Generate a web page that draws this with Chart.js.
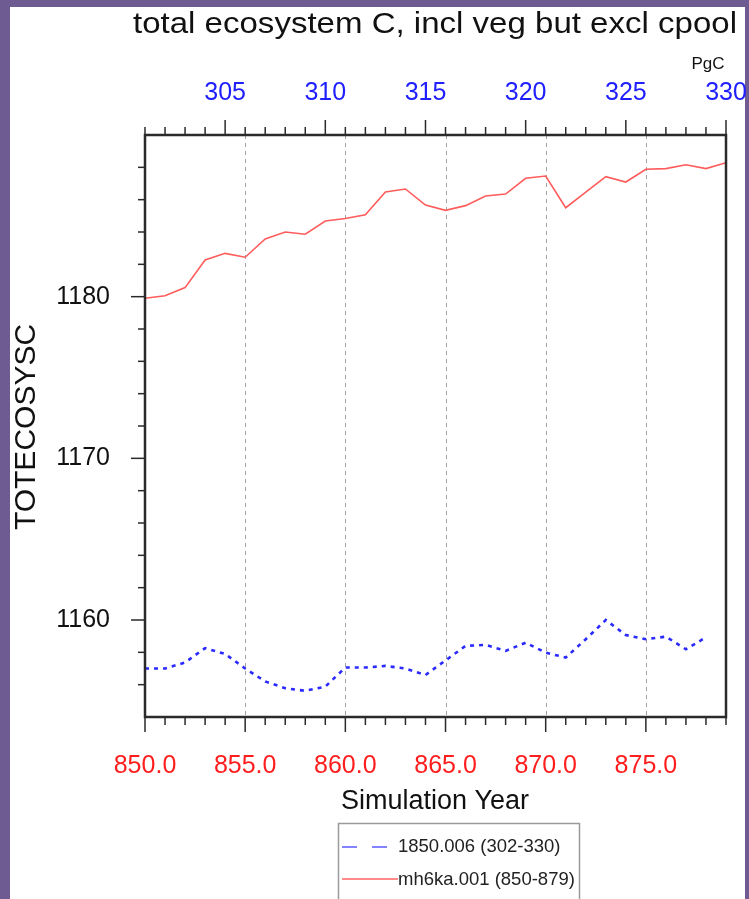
<!DOCTYPE html>
<html>
<head>
<meta charset="utf-8">
<title>TOTECOSYSC</title>
<script src="https://cdn.jsdelivr.net/npm/chart.js@4.4.1/dist/chart.umd.min.js"></script>
<style>
  html, body { margin: 0; padding: 0; background: #6e5b92; }
  #wrap { position: absolute; left: 0; top: 0; width: 749px; height: 899px; }
</style>
</head>
<body>
<div id="wrap"><canvas id="chart" width="749" height="899"></canvas></div>
<script>
// simulation years on the bottom axis
const years = [850, 851, 852, 853, 854, 855, 856, 857, 858, 859,
               860, 861, 862, 863, 864, 865, 866, 867, 868, 869,
               870, 871, 872, 873, 874, 875, 876, 877, 878, 879];

// mh6ka.001 (850-879), red solid
const mh6kaValues = [1179.9, 1180.06, 1180.56, 1182.27, 1182.68, 1182.44, 1183.57, 1184.0, 1183.86, 1184.68,
                     1184.83, 1185.07, 1186.47, 1186.66, 1185.67, 1185.34, 1185.63, 1186.23, 1186.35, 1187.32,
                     1187.46, 1185.5, 1186.47, 1187.42, 1187.09, 1187.88, 1187.92, 1188.16, 1187.92, 1188.29];

// 1850.006 (302-330), blue dotted
const ctlValues = [1157.0, 1157.0, 1157.37, 1158.26, 1157.9, 1157.0, 1156.2, 1155.78, 1155.62, 1155.88,
                   1157.06, 1157.06, 1157.16, 1157.0, 1156.6, 1157.5, 1158.4, 1158.46, 1158.09, 1158.6,
                   1157.98, 1157.68, 1158.81, 1160.0, 1159.07, 1158.81, 1158.97, 1158.19, 1158.93];

const bottomLabels = [850, 855, 860, 865, 870, 875];
const topLabels = [305, 310, 315, 320, 325, 330];
const yLabels = [1160, 1170, 1180];

const seriesNames = ['1850.006 (302-330)', 'mh6ka.001 (850-879)'];
const titleText = 'total ecosystem C, incl veg but excl cpool';
const FONT = '"Liberation Sans", Arial, Helvetica, sans-serif';

// draws background, ticks, frame, titles and the legend box
const ncarLook = {
  id: 'ncarLook',
  beforeDraw(chart) {
    const ctx = chart.ctx;
    ctx.save();
    ctx.fillStyle = '#6e5b92';
    ctx.fillRect(0, 0, 749, 899);
    ctx.fillStyle = '#ffffff';
    ctx.fillRect(10, 7, 735, 892);
    ctx.restore();
  },
  beforeDatasetsDraw(chart) {
    const ctx = chart.ctx;
    const a = chart.chartArea;
    const x = chart.scales.x;
    ctx.save();
    ctx.strokeStyle = '#a0a0a0';
    ctx.lineWidth = 1;
    ctx.setLineDash([4, 4]);
    bottomLabels.forEach(v => {
      if (v <= x.min || v >= x.max) return;
      const px = Math.round(x.getPixelForValue(v)) + 0.5;
      ctx.beginPath();
      ctx.moveTo(px, a.top);
      ctx.lineTo(px, a.bottom);
      ctx.stroke();
    });
    ctx.restore();
  },
  afterDraw(chart) {
    const ctx = chart.ctx;
    const a = chart.chartArea;
    const x = chart.scales.x, x2 = chart.scales.x2, y = chart.scales.y;
    ctx.save();
    ctx.strokeStyle = '#2a2a2a';

    // tick marks
    ctx.lineWidth = 1.5;
    for (let v = Math.ceil(x.min); v <= x.max; v++) {
      const px = x.getPixelForValue(v);
      const len = v % 5 === 0 ? 15 : 8;
      ctx.beginPath(); ctx.moveTo(px, a.bottom); ctx.lineTo(px, a.bottom + len); ctx.stroke();
    }
    for (let v = Math.ceil(x2.min); v <= x2.max; v++) {
      const px = x2.getPixelForValue(v);
      const len = v % 5 === 0 ? 15 : 8;
      ctx.beginPath(); ctx.moveTo(px, a.top); ctx.lineTo(px, a.top - len); ctx.stroke();
    }
    for (let v = 1156; v < y.max; v += 2) {
      const py = y.getPixelForValue(v);
      const len = v % 10 === 0 ? 14 : 7;
      ctx.beginPath(); ctx.moveTo(a.left, py); ctx.lineTo(a.left - len, py); ctx.stroke();
    }

    // frame
    ctx.lineWidth = 2.5;
    ctx.strokeRect(a.left, a.top, a.right - a.left, a.bottom - a.top);

    // title, stretched to the width it has in the figure
    ctx.fillStyle = '#111111';
    ctx.font = '29px ' + FONT;
    ctx.textBaseline = 'alphabetic';
    ctx.textAlign = 'left';
    const w = ctx.measureText(titleText).width;
    const sx = 604 / w;
    ctx.save();
    ctx.translate(133, 33);
    ctx.scale(sx, 1);
    ctx.fillText(titleText, 0, 0);
    ctx.restore();

    // units
    ctx.font = '17px ' + FONT;
    ctx.textAlign = 'center';
    ctx.textBaseline = 'middle';
    ctx.fillText('PgC', 708, 64);

    // axis titles
    ctx.font = '27px ' + FONT;
    ctx.fillText('Simulation Year', 435, 802);
    ctx.save();
    ctx.translate(27, 427);
    ctx.rotate(-Math.PI / 2);
    ctx.font = '30px ' + FONT;
    ctx.fillText('TOTECOSYSC', 0, 0);
    ctx.restore();

    // legend
    ctx.strokeStyle = '#9a9a9a';
    ctx.lineWidth = 1.5;
    ctx.strokeRect(338.5, 823.5, 241, 100);
    ctx.lineWidth = 1.5;
    ctx.strokeStyle = '#5b5bff';
    ctx.setLineDash([15, 15]);
    ctx.beginPath(); ctx.moveTo(342, 847); ctx.lineTo(390, 847); ctx.stroke();
    ctx.setLineDash([]);
    ctx.strokeStyle = '#ff6464';
    ctx.beginPath(); ctx.moveTo(342, 879); ctx.lineTo(398, 879); ctx.stroke();
    ctx.fillStyle = '#222222';
    ctx.font = '18.5px ' + FONT;
    ctx.textAlign = 'left';
    ctx.fillText(seriesNames[0], 398, 847);
    ctx.fillText(seriesNames[1], 398, 880);
    ctx.restore();
  }
};

// keep the plot box fixed: no extra room for overhanging end labels
const noSidePad = s => { s.paddingLeft = 0; s.paddingRight = 0; };

new Chart(document.getElementById('chart'), {
  type: 'line',
  data: {
    datasets: [
      {
        label: seriesNames[1],
        data: mh6kaValues.map((v, i) => ({ x: years[i], y: v })),
        borderColor: '#ff5c5c',
        borderWidth: 1.6,
        pointRadius: 0,
        tension: 0,
        xAxisID: 'x',
        yAxisID: 'y'
      },
      {
        label: seriesNames[0],
        data: ctlValues.map((v, i) => ({ x: years[i], y: v })),
        borderColor: '#2b2bff',
        borderWidth: 2.6,
        borderDash: [4, 5],
        pointRadius: 0,
        tension: 0,
        xAxisID: 'x',
        yAxisID: 'y'
      }
    ]
  },
  options: {
    responsive: false,
    animation: false,
    layout: { padding: { left: 10, right: 23, top: 0, bottom: 0 } },
    plugins: {
      legend: { display: false },
      tooltip: { enabled: false },
      title: { display: false }
    },
    scales: {
      x: {
        type: 'linear',
        position: 'bottom',
        min: 850,
        max: 879,
        afterFit: s => { s.height = 182; noSidePad(s); },
        grid: { display: false, drawTicks: false },
        border: { display: false },
        ticks: {
          stepSize: 5,
          autoSkip: false,
          maxRotation: 0,
          padding: 34,
          color: '#ff1e1e',
          font: { family: FONT, size: 25 },
          callback: v => bottomLabels.includes(v) ? v.toFixed(1) : ''
        }
      },
      x2: {
        type: 'linear',
        position: 'top',
        min: 301,
        max: 330,
        afterFit: s => { s.height = 135; noSidePad(s); },
        grid: { display: false, drawTicks: false },
        border: { display: false },
        ticks: {
          stepSize: 5,
          autoSkip: false,
          maxRotation: 0,
          padding: 27,
          color: '#2020ff',
          font: { family: FONT, size: 25 },
          callback: v => topLabels.includes(v) ? String(v) : ''
        }
      },
      y: {
        type: 'linear',
        position: 'left',
        min: 1154,
        max: 1190,
        afterFit: s => { s.width = 135; s.paddingTop = 0; s.paddingBottom = 0; },
        grid: { display: false, drawTicks: false },
        border: { display: false },
        ticks: {
          stepSize: 2,
          autoSkip: false,
          padding: 35,
          color: '#111111',
          font: { family: FONT, size: 25 },
          callback: v => yLabels.includes(Math.round(v)) && Math.abs(v - Math.round(v)) < 1e-6 ? String(Math.round(v)) : ''
        }
      }
    }
  },
  plugins: [ncarLook]
});
</script>
</body>
</html>
